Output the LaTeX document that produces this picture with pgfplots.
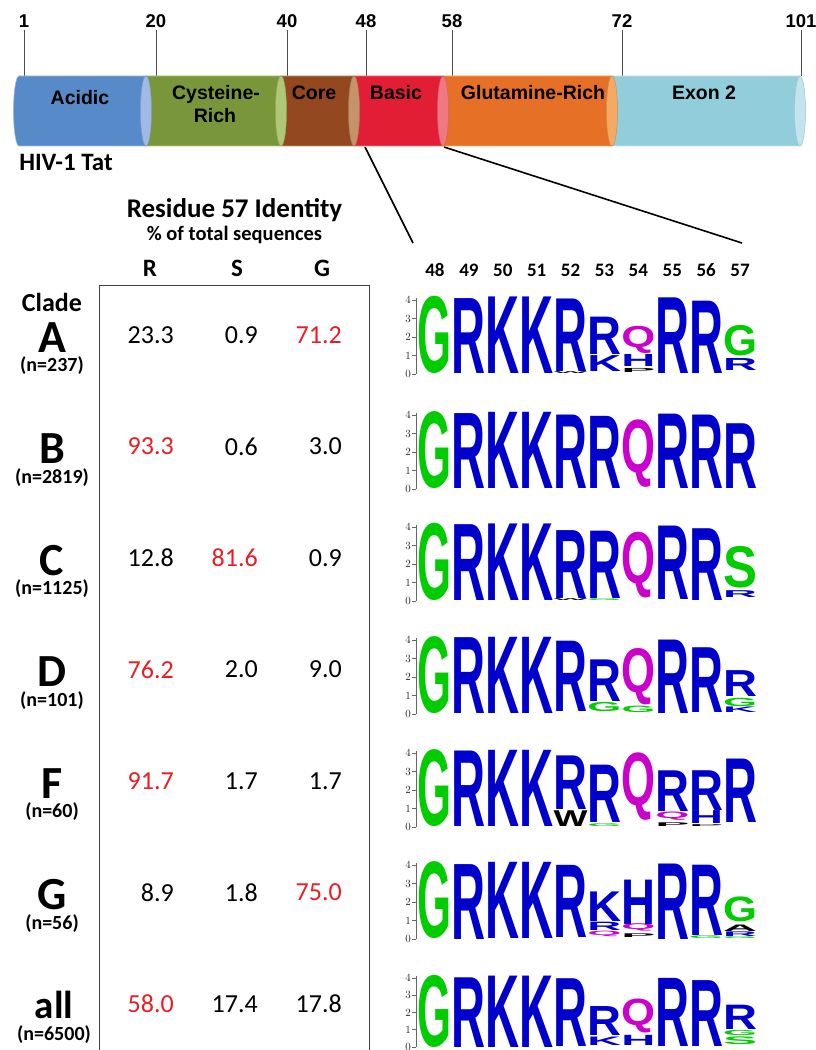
\documentclass[border=0pt]{standalone}
\usepackage{pgfplots}
\pgfplotsset{compat=1.18}
\usepackage{pgfplotstable}
\usepackage{graphicx}
\usepackage{fontspec}
\setmainfont{Carlito}
\newfontfamily\arialfont{Liberation Sans}

\definecolor{tred}{RGB}{235,28,36}
\definecolor{lgreen}{RGB}{0,204,0}
\definecolor{lblue}{RGB}{0,0,204}
\definecolor{lmag}{RGB}{204,0,204}
\definecolor{acidB}{RGB}{86,138,201}\definecolor{acidC}{RGB}{160,185,230}
\definecolor{cysB}{RGB}{122,150,58}\definecolor{cysC}{RGB}{175,200,120}
\definecolor{coreB}{RGB}{148,72,32}\definecolor{coreC}{RGB}{196,148,104}
\definecolor{basB}{RGB}{226,30,52}\definecolor{basC}{RGB}{240,120,130}
\definecolor{gluB}{RGB}{229,112,38}\definecolor{gluC}{RGB}{245,170,100}
\definecolor{exB}{RGB}{146,205,220}\definecolor{exC}{RGB}{195,228,238}

\newlength\bitunit
\setlength\bitunit{18.5pt}
\newlength\lettlen
\newcommand\lf{\arialfont\bfseries\fontsize{40}{40}\selectfont}
\newcommand\logoG{\textcolor{lgreen}{\lf G}}
\newcommand\logoS{\textcolor{lgreen}{\lf S}}
\newcommand\logoR{\textcolor{lblue}{\lf R}}
\newcommand\logoK{\textcolor{lblue}{\lf K}}
\newcommand\logoH{\textcolor{lblue}{\lf H}}
\newcommand\logoQ{\textcolor{lmag}{\lf Q}}
\newcommand\logoW{\textcolor{black}{\lf W}}
\newcommand\logoA{\textcolor{black}{\lf A}}
\newcommand\logoP{\textcolor{black}{\lf P}}
\newcommand\valcol[1]{\ifdim#1pt>0.5pt\color{tred}\fi}

% Residue 57 identity table (% of sequences); c=1 marks the majority residue (red)
\pgfplotstableread{
x y v c
174 335 23.3 0
258 335 0.9 0
342 335 71.2 1
174 446.5 93.3 1
258 446.5 0.6 0
342 446.5 3.0 0
174 558 12.8 0
258 558 81.6 1
342 558 0.9 0
174 669.5 76.2 1
258 669.5 2.0 0
342 669.5 9.0 0
174 781 91.7 1
258 781 1.7 0
342 781 1.7 0
174 892.5 8.9 0
258 892.5 1.8 0
342 892.5 75.0 1
174 1004 58.0 1
258 1004 17.4 0
342 1004 17.8 0
}\valtab

% logo tables: position, base (bits), height (bits), letter
\pgfplotstableread{
x y h L
48 0 4.18 G
49 0 4.05 R
50 0 4.14 K
51 0 4.14 K
52 0.03 0.1 W
52 0.15 3.92 R
53 0.16 0.86 K
53 1.05 2.02 R
54 0.08 0.22 P
54 0.40 0.65 H
54 1.10 1.47 Q
55 0 4.09 R
56 0.05 3.91 R
57 0.20 0.65 R
57 0.95 1.65 G
}\logoAtab
\pgfplotstableread{
x y h L
48 0 4.16 G
49 0 4.05 R
50 0 4.12 K
51 0 4.12 K
52 0.03 3.97 R
53 0.05 3.90 R
54 0.10 3.65 Q
55 0.03 4.02 R
56 0.03 3.97 R
57 0.05 3.50 R
}\logoBtab
\pgfplotstableread{
x y h L
48 0 4.18 G
49 0 4.10 R
50 0 4.14 K
51 0 4.14 K
52 0.01 0.10 W
52 0.12 3.67 R
53 0.02 0.10 G
53 0.15 3.64 R
54 0.15 3.55 Q
55 0.08 3.97 R
56 0.05 3.88 R
57 0.18 0.37 R
57 0.68 2.25 S
}\logoCtab
\pgfplotstableread{
x y h L
48 0 4.16 G
49 0 4.10 R
50 0 4.12 K
51 0 4.12 K
52 0.12 3.80 R
53 0.12 0.50 G
53 0.70 2.25 R
54 0.10 0.35 G
54 0.50 3.05 Q
55 0.05 3.97 R
56 0.10 3.50 R
57 0.10 0.30 K
57 0.42 0.45 G
57 0.95 1.40 R
}\logoDtab
\pgfplotstableread{
x y h L
48 0 4.16 G
49 0 4.08 R
50 0 4.12 K
51 0 4.12 K
52 0.04 0.85 W
52 0.92 2.90 R
53 0.05 0.15 G
53 0.25 3.10 R
54 0.35 3.65 Q
55 0.05 0.20 P
55 0.35 0.45 Q
55 0.85 2.20 R
56 0.05 0.10 P
56 0.18 0.70 H
56 0.90 2.15 R
57 0.27 3.43 R
}\logoFtab
\pgfplotstableread{
x y h L
48 0 4.16 G
49 0 4.05 R
50 0 4.12 K
51 0 4.12 K
52 0.10 3.90 R
53 0.15 0.30 Q
53 0.45 0.45 R
53 0.95 1.60 K
54 0.10 0.20 P
54 0.40 0.40 Q
54 0.80 2.40 H
55 0 4.08 R
56 0.02 0.15 G
56 0.20 3.80 R
57 0.05 0.10 G
57 0.15 0.25 R
57 0.40 0.35 A
57 0.95 1.35 G
}\logoGtab
\pgfplotstableread{
x y h L
48 0 4.18 G
49 0 4.04 R
50 0 4.14 K
51 0 4.14 K
52 0.05 3.93 R
53 0.10 0.49 K
53 0.69 1.68 R
54 0.10 0.59 H
54 0.79 1.97 Q
55 0.03 3.95 R
56 0.03 3.82 R
57 0.15 0.45 S
57 0.65 0.30 G
57 0.99 1.41 R
}\logoAlltab

\pgfplotsset{
  logo/.style={scale only axis, width=341pt, xmin=47.44, xmax=57.5, ymin=0, ymax=4.12,
    axis x line=none, axis y line*=left, xtick=\empty, ytick={0,1,2,3,4},
    tick align=outside, major tick length=4pt,
    y axis line style={black!60, line width=0.7pt},
    ytick style={black!60, line width=0.7pt},
    yticklabel style={font=\arialfont\bfseries\fontsize{10.5}{11}\selectfont, inner sep=1pt, text=black!85},
    clip=false, anchor=south west},
  letters/.style={draw=none, mark=none, point meta=explicit symbolic,
    visualization depends on={\thisrow{h}\as\hh},
    nodes near coords={\pgfmathsetlength\lettlen{\hh*\bitunit}\resizebox*{34pt}{\lettlen}{\csname logo\pgfplotspointmeta\endcsname}},
    every node near coord/.style={anchor=south, inner sep=0pt, outer sep=0pt}},
}

\newcommand\cyl[4]{%
  \fill[#3, draw=#4, line width=0.6pt] (axis cs:#1,904) arc[start angle=270, end angle=90, x radius=5.5pt, y radius=35pt] -- (axis cs:#2,974) -- (axis cs:#2,904) -- cycle;
  \fill[#4, draw=#4!85!black, line width=0.5pt] (axis cs:#2,939) ellipse[x radius=5.5pt, y radius=35pt];
}

\begin{document}
\begin{tikzpicture}
\path[use as bounding box] (0pt,0pt) rectangle (815pt,1050pt);

% ---------- canvas: table, labels, connecting lines ----------
\begin{axis}[at={(0pt,0pt)}, anchor=south west, scale only axis, width=815pt, height=1050pt,
  xmin=0, xmax=815, ymin=0, ymax=1050, y dir=reverse, hide axis, clip=false]
\addplot[black, line width=1.6pt] coordinates {(365,147) (413,243)};
\addplot[black, line width=1.6pt] coordinates {(444,147) (742,243)};
\addplot[black!75, line width=1pt] coordinates {(99,1052) (99,285) (369,285) (369,1052)};
\addplot[draw=none, mark=none, point meta=explicit symbolic,
  visualization depends on={\thisrow{c}\as\cc},
  nodes near coords={\valcol{\cc}\pgfplotspointmeta},
  every node near coord/.style={anchor=east, inner sep=0pt, font=\fontsize{26}{30}\selectfont}]
  table[x=x, y=y, meta=v]{\valtab};

\node[font=\bfseries\fontsize{25}{28}\selectfont, anchor=base] at (axis cs:66,170) {HIV-1 Tat};
\node[font=\bfseries\fontsize{27}{30}\selectfont] at (axis cs:234.5,210) {Residue 57 Identity};
\node[font=\bfseries\fontsize{20.5}{24}\selectfont] at (axis cs:234.5,235) {\% of total sequences};
\node[font=\bfseries\fontsize{25}{28}\selectfont] at (axis cs:150,268) {R};
\node[font=\bfseries\fontsize{25}{28}\selectfont] at (axis cs:237,268) {S};
\node[font=\bfseries\fontsize{25}{28}\selectfont] at (axis cs:322,268) {G};
\node[font=\bfseries\fontsize{26}{30}\selectfont] at (axis cs:52,302) {Clade};
\begin{scope}[font=\bfseries\fontsize{46}{50}\selectfont, anchor=base]
\node at (axis cs:52,352) {A};
\node at (axis cs:52,463.5) {B};
\node at (axis cs:52,575) {C};
\node at (axis cs:52,686.5) {D};
\node at (axis cs:52,798) {F};
\node at (axis cs:52,909.5) {G};
\node[font=\bfseries\fontsize{39}{44}\selectfont] at (axis cs:54,1018) {all};
\end{scope}
\begin{scope}[font=\bfseries\fontsize{20}{22}\selectfont]
\node at (axis cs:52,366) {(n=237)};
\node at (axis cs:52,477.5) {(n=2819)};
\node at (axis cs:52,589) {(n=1125)};
\node at (axis cs:52,700.5) {(n=101)};
\node at (axis cs:52,812) {(n=60)};
\node at (axis cs:52,923.5) {(n=56)};
\node at (axis cs:54,1035) {(n=6500)};
\end{scope}
\end{axis}

% ---------- HIV-1 Tat domain diagram ----------
\begin{axis}[at={(0pt,904pt)}, anchor=south west, scale only axis, width=815pt, height=116pt,
  xmin=0, xmax=815, ymin=904, ymax=1020, axis y line=none, axis x line*=top,
  x axis line style={draw=none},
  xtick={24,156,287,366,452,622,801}, xticklabels={1,20,40,48,58,72,101},
  tick align=inside, major tick length=46pt,
  xtick style={black!70, line width=0.7pt},
  xticklabel style={font=\arialfont\bfseries\fontsize{18.5}{20}\selectfont, anchor=south, inner sep=0pt, yshift=2pt},
  clip=false]
\cyl{612}{800}{exB}{exC}
\cyl{443}{612}{gluB}{gluC}
\cyl{354}{443}{basB}{basC}
\cyl{281}{354}{coreB}{coreC}
\cyl{146}{281}{cysB}{cysC}
\cyl{19}{146}{acidB}{acidC}
\begin{scope}[font=\arialfont\bfseries\fontsize{19.5}{22}\selectfont, anchor=base]
\node at (axis cs:80,945) {Acidic};
\node at (axis cs:216,950.7) {Cysteine-};
\node at (axis cs:215,927.3) {Rich};
\node at (axis cs:314,950.7) {Core};
\node at (axis cs:396,950.7) {Basic};
\node at (axis cs:533,950.7) {Glutamine-Rich};
\node at (axis cs:704,950.7) {Exon 2};
\end{scope}
\end{axis}

% ---------- sequence logos ----------
\begin{axis}[logo, at={(416pt,676pt)}, height=76.22pt]
\addplot[letters] table[x=x, y=y, meta=L]{\logoAtab};
\pgfplotsinvokeforeach{48,...,57}{
  \node[font=\bfseries\fontsize{19}{22}\selectfont, anchor=base] at (axis cs:#1,4.12) [yshift=21.5pt] {#1};
}
\end{axis}
\begin{axis}[logo, at={(416pt,561pt)}, height=76.22pt]
\addplot[letters] table[x=x, y=y, meta=L]{\logoBtab};
\end{axis}
\begin{axis}[logo, at={(416pt,449pt)}, height=76.22pt]
\addplot[letters] table[x=x, y=y, meta=L]{\logoCtab};
\end{axis}
\begin{axis}[logo, at={(416pt,336pt)}, height=76.22pt]
\addplot[letters] table[x=x, y=y, meta=L]{\logoDtab};
\end{axis}
\begin{axis}[logo, at={(416pt,223pt)}, height=76.22pt]
\addplot[letters] table[x=x, y=y, meta=L]{\logoFtab};
\end{axis}
\begin{axis}[logo, at={(416pt,111pt)}, height=76.22pt]
\addplot[letters] table[x=x, y=y, meta=L]{\logoGtab};
\end{axis}
\setlength\bitunit{17.25pt}
\begin{axis}[logo, at={(416pt,3pt)}, height=71.07pt]
\addplot[letters] table[x=x, y=y, meta=L]{\logoAlltab};
\end{axis}
\end{tikzpicture}
\end{document}
